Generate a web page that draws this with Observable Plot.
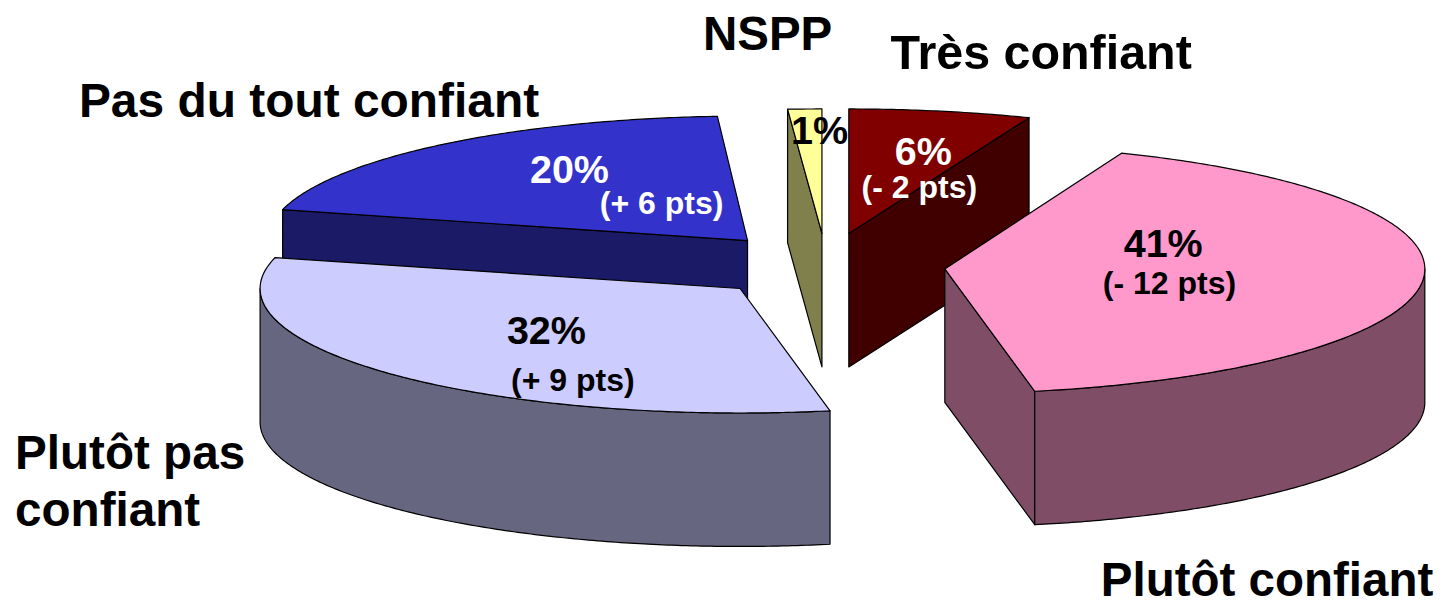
<!DOCTYPE html>
<html>
<head>
<meta charset="utf-8">
<style>html,body{margin:0;padding:0;background:#fff;overflow:hidden}svg{display:block}</style>
<script src="https://cdn.jsdelivr.net/npm/d3@7"></script>
<script src="https://cdn.jsdelivr.net/npm/@observablehq/plot@0.6"></script>
</head>
<body>
<script>
// Data, clockwise from the top of the pie
const categories = ["Très confiant", "Plutôt confiant", "Plutôt pas\nconfiant", "Pas du tout confiant", "NSPP"];
const shares = [6, 41, 32, 20, 1];
const deltas = ["(- 2 pts)", "(- 12 pts)", "(+ 9 pts)", "(+ 6 pts)", null];

// Styles
const topColors = ["#800000", "#FF99CC", "#CCCCFF", "#3333CC", "#FFFF99"];
const wallColors = ["#400000", "#804D66", "#666680", "#1A1A66", "#80804D"];
const shareInk = ["#fff", "#000", "#000", "#fff", "#000"];
const deltaInk = ["#fff", "#000", "#000", "#fff", "#000"];

// Layout in pie units (radius = 1 on both axes; the scales squash it into an ellipse)
const explodeX = [0.034, 0.234, -0.1925, -0.177, -0.022];
const explodeY = [-0.177, 0.108, 0.265, -0.12, -0.177];
const stretchX = [1.02, 1, 1, 1, 1.14];
const depth = 1.072;
const nameX = [0.121, 0.559, -1.703, -1.57, -0.27];
const nameY = [-1.647, 2.594, 1.799, -1.261, -1.791];
const nameSize = [48.4, 47.5, 47.6, 47.9, 47.5];
const shareX = [0.189, 0.689, -0.596, -0.548, -0.027];
const shareY = [-0.827, -0.088, 0.61, -0.683, -0.996];
const deltaX = [0.181, 0.702, -0.541, -0.356, 0];
const deltaY = [-0.546, 0.225, 1.004, -0.418, 0];
const drawOrder = [3, 4, 0, 1, 2];

const W = 1443, H = 600, pieCx = 832, pieCy = 255, pieRx = 480, pieRy = 124.5;

const total = d3.sum(shares);
const cum = [0, ...d3.cumsum(shares)];
const angle = (v) => (v / total) * 2 * Math.PI;

const polys = [];
let pid = 0;
function addPoly(pts, color) {
  const id = pid++;
  for (const [x, y] of [...pts, pts[0]]) polys.push({id, x, y, color});
}
function rim(i, t, drop = 0) {
  return [explodeX[i] + stretchX[i] * Math.sin(t), explodeY[i] - Math.cos(t) + drop];
}
function arc(i, a, b, drop = 0) {
  const n = Math.max(2, Math.ceil(Math.abs(b - a) / 0.01));
  return d3.range(n + 1).map((k) => rim(i, a + ((b - a) * k) / n, drop));
}
for (const i of drawOrder) {
  const a = angle(cum[i]), b = angle(cum[i + 1]);
  const c = [explodeX[i], explodeY[i]], cd = [c[0], c[1] + depth];
  // cut faces that look at the viewer
  if (Math.sin(a) < -1e-6) addPoly([c, rim(i, a), rim(i, a, depth), cd], wallColors[i]);
  if (Math.sin(b) > 1e-6) addPoly([c, rim(i, b), rim(i, b, depth), cd], wallColors[i]);
  // outer wall: only the front half of the rim shows
  const wa = Math.max(a, Math.PI / 2), wb = Math.min(b, (3 * Math.PI) / 2);
  if (wb > wa) addPoly([...arc(i, wa, wb), ...arc(i, wb, wa, depth)], wallColors[i]);
  // top
  addPoly([c, ...arc(i, a, b)], topColors[i]);
}

const names = categories.map((text, i) => ({text, x: nameX[i], y: nameY[i], size: nameSize[i]}));
const shareLabels = shares.map((s, i) => ({text: s + "%", x: shareX[i], y: shareY[i], ink: shareInk[i]}));
const deltaLabels = deltas.map((text, i) => ({text, x: deltaX[i], y: deltaY[i], ink: deltaInk[i]})).filter((d) => d.text);

const font = {fontFamily: "'Liberation Sans', Arial, sans-serif", fontWeight: "bold", lineAnchor: "middle"};

const chart = Plot.plot({
  width: W, height: H, margin: 0,
  style: {background: "#fff"},
  x: {axis: null, domain: [-pieCx / pieRx, (W - pieCx) / pieRx]},
  y: {axis: null, domain: [(H - pieCy) / pieRy, -pieCy / pieRy]},
  color: {type: "identity"},
  marks: [
    Plot.line(polys, {x: "x", y: "y", z: "id", fill: "color", stroke: "#000", strokeWidth: 1.2, strokeLinejoin: "round", curve: "linear"}),
    Plot.text(names, {...font, x: "x", y: "y", text: "text", fontSize: (d) => d.size, textAnchor: "start", fill: "#000", lineHeight: 1.18}),
    Plot.text(shareLabels, {...font, x: "x", y: "y", text: "text", fontSize: 39.5, textAnchor: "middle", fill: "ink"}),
    Plot.text(deltaLabels, {...font, x: "x", y: "y", text: "text", fontSize: 32, textAnchor: "middle", fill: "ink"})
  ]
});
document.body.appendChild(chart);
</script>
</body>
</html>
